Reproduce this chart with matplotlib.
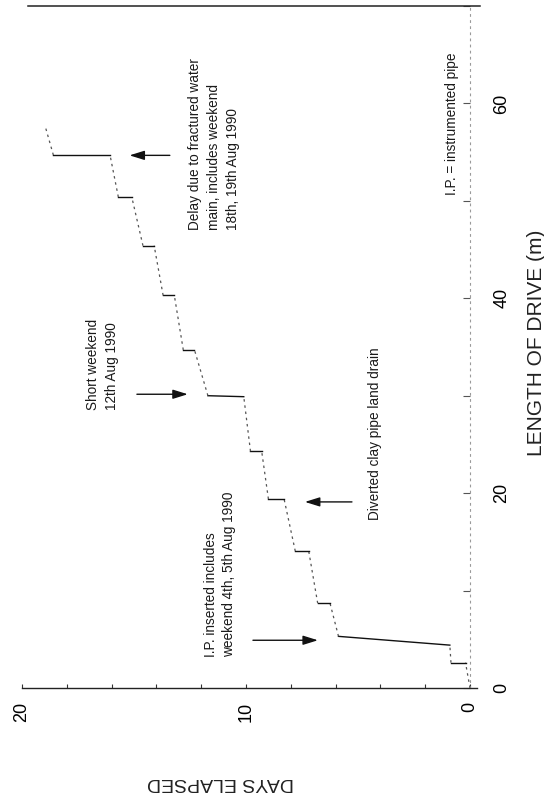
import matplotlib
matplotlib.use("Agg")
import matplotlib.pyplot as plt
from matplotlib.ticker import FixedLocator, MultipleLocator

plt.rcParams['font.family'] = ['Liberation Sans', 'DejaVu Sans']

# Cumulative progress of the pipe-jacking drive
days_elapsed = [0, 0.2, 0.85, 0.9, 5.87, 6.25, 6.8, 7.2, 7.8, 8.3, 9.0, 9.3, 9.8,
                10.1, 11.7, 12.3, 12.8, 13.2, 13.7, 14.1, 14.6, 15.1, 15.7,
                16.07, 18.6, 18.97]
drive_length = [0, 2.6, 2.6, 4.4, 5.3, 8.7, 8.7, 14.05, 14.05, 19.4, 19.4, 24.3,
                24.3, 29.9, 30.0, 34.7, 34.7, 40.3, 40.3, 45.4, 45.4, 50.4, 50.4,
                54.7, 54.7, 57.7]

day_ticks = [0, 10, 20]
drive_ticks = [0, 20, 40, 60]

note_ip = "I.P. inserted includes\nweekend 4th, 5th Aug 1990"
note_drain = "Diverted clay pipe land drain"
note_short = "Short weekend\n12th Aug 1990"
note_delay = "Delay due to fractured water\nmain, includes weekend\n18th, 19th Aug 1990"
note_key = "I.P. = instrumented pipe"

W, H = 544, 796
fig = plt.figure(figsize=(W / 100, H / 100), dpi=100)
ax = fig.add_axes([22 / W, (H - 688) / H, 448 / W, 682 / H])

ax.set_xlim(20, 0)
ax.set_ylim(0, 70)

# progress line: steep advances drawn broken, stoppages solid
for i in range(len(days_elapsed) - 1):
    d0, d1 = days_elapsed[i], days_elapsed[i + 1]
    l0, l1 = drive_length[i], drive_length[i + 1]
    rising = abs(l1 - l0) * 9.74 > abs(d1 - d0) * 22.4
    if rising:
        ax.plot([d0, d1], [l0, l1], color='#555555', lw=0.9,
                linestyle=(0, (2, 3)), solid_capstyle='butt')
    else:
        ax.plot([d0, d1], [l0, l1], color='#111111', lw=1.0)

# axes frame
for side in ('left',):
    ax.spines[side].set_visible(False)
ax.spines['bottom'].set_color('#222222')
ax.spines['bottom'].set_linewidth(1.0)
ax.spines['bottom'].set_bounds(20, -0.3)
ax.spines['top'].set_color('#222222')
ax.spines['top'].set_linewidth(1.1)
ax.spines['top'].set_bounds(19.73, -0.45)
ax.spines['right'].set_color('#9a9a9a')
ax.spines['right'].set_linewidth(0.8)
ax.spines['right'].set_linestyle((0, (1.5, 4)))

ax.xaxis.set_major_locator(FixedLocator(day_ticks))
ax.xaxis.set_minor_locator(MultipleLocator(2))
ax.yaxis.set_major_locator(FixedLocator(drive_ticks))
ax.yaxis.set_minor_locator(MultipleLocator(10))
ax.yaxis.tick_right()

ax.tick_params(axis='x', which='both', direction='in', length=3, width=0.8,
               color='#333333', top=False, pad=10, labelsize=13, labelrotation=90)
ax.tick_params(axis='y', which='both', direction='in', length=5, width=0.8,
               color='#555555', left=False, right=True, pad=17, labelsize=13,
               labelrotation=90)
for lab in ax.get_xticklabels():
    lab.set_ha('center')
    lab.set_va('top')
for lab in ax.get_yticklabels():
    lab.set_ha('left')
    lab.set_va('center')

fig.text(220 / W, 1 - 782 / H, 'DAYS ELAPSED', rotation=180, ha='center',
         va='center', fontsize=14, color='#222222')
fig.text(536 / W, 1 - 343 / H, 'LENGTH OF DRIVE (m)', rotation=90, ha='center',
         va='center', fontsize=15, color='#222222')

note_kw = dict(rotation=90, ha='center', va='bottom', multialignment='left',
               fontsize=9.8, linespacing=1.45, color='#1a1a1a')
ax.text(11.16, 3.2, note_ip, **note_kw)
ax.text(4.24, 17.2, note_drain, **note_kw)
ax.text(16.4, 28.5, note_short, **note_kw)
ax.text(11.43, 47.0, note_delay, **note_kw)
ax.text(0.8, 50.6, note_key, **note_kw)

arrow_kw = dict(arrowstyle='-|>,head_length=0.9,head_width=0.28', color='#111111',
                lw=1.0, shrinkA=0, shrinkB=0, mutation_scale=10)
ax.annotate('', xy=(6.79, 4.9), xytext=(9.69, 4.9), arrowprops=arrow_kw)
ax.annotate('', xy=(7.37, 19.1), xytext=(5.27, 19.1), arrowprops=arrow_kw)
ax.annotate('', xy=(12.6, 30.15), xytext=(14.87, 30.15), arrowprops=arrow_kw)
ax.annotate('', xy=(15.2, 54.67), xytext=(13.4, 54.67), arrowprops=arrow_kw)

fig.savefig('out.png', dpi=100)
